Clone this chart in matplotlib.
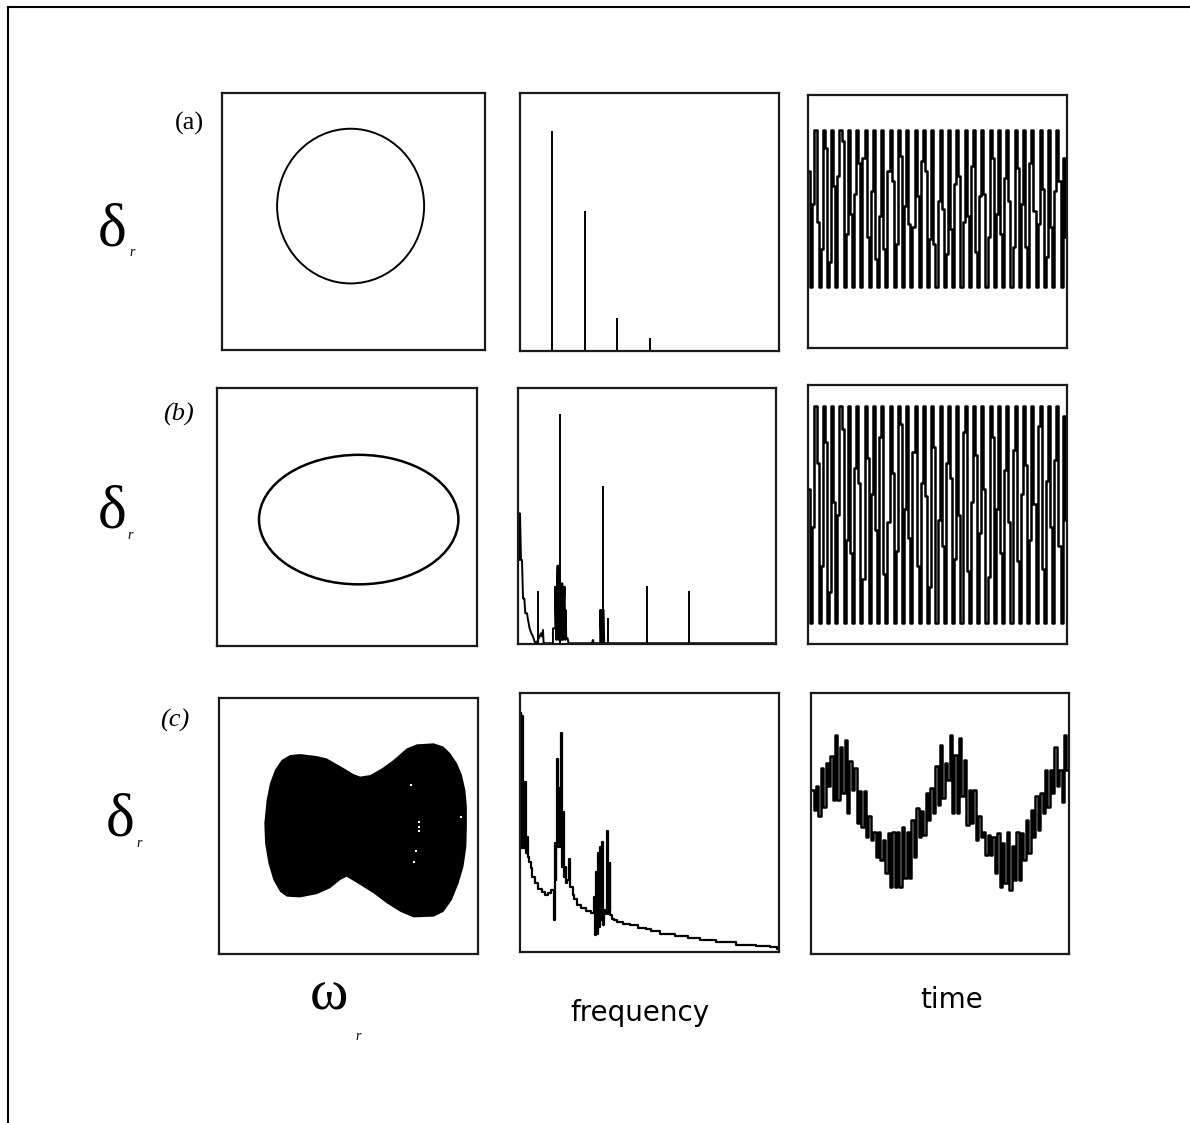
import numpy as np
import matplotlib
matplotlib.use("Agg")
import matplotlib.pyplot as plt
from matplotlib.patches import Ellipse
from matplotlib.lines import Line2D

# phase portraits (omega_r on x, delta_r on y), axes run 0..1
orbit_a = dict(cx=0.489, cy=0.560, w=0.559, h=0.602)
orbit_b = dict(cx=0.545, cy=0.490, w=0.767, h=0.502)

# outline of the filled attractor in (c)
attr_x = [0.274, 0.313, 0.378, 0.416, 0.468, 0.519, 0.545, 0.584, 0.629, 0.674,
          0.725, 0.764, 0.829, 0.867, 0.893, 0.919, 0.938, 0.951, 0.957, 0.957,
          0.955, 0.944, 0.925, 0.899, 0.867, 0.829, 0.751, 0.700, 0.648, 0.597,
          0.545, 0.493, 0.468, 0.429, 0.378, 0.313, 0.262, 0.236, 0.210, 0.191,
          0.178, 0.175, 0.184, 0.197, 0.216, 0.242]
attr_y = [0.777, 0.781, 0.773, 0.764, 0.734, 0.703, 0.693, 0.699, 0.725, 0.758,
          0.803, 0.819, 0.823, 0.810, 0.784, 0.745, 0.699, 0.641, 0.576, 0.497,
          0.419, 0.341, 0.276, 0.211, 0.165, 0.146, 0.143, 0.165, 0.198, 0.237,
          0.270, 0.302, 0.289, 0.257, 0.234, 0.221, 0.224, 0.243, 0.289, 0.354,
          0.432, 0.510, 0.602, 0.667, 0.719, 0.758]
gap_x = [0.741, 0.771, 0.771, 0.771, 0.762, 0.754, 0.935]
gap_y = [0.660, 0.515, 0.497, 0.479, 0.402, 0.361, 0.536]

# spectra, frequency 0..8, amplitude 0..1
a_freq = [1.0, 2.0, 3.0, 4.0]
a_amp = [0.851, 0.543, 0.129, 0.052]

b_curve_f = [0.021, 0.041, 0.062, 0.093, 0.124, 0.155, 0.196, 0.227, 0.279, 0.310,
             0.361, 0.413, 0.465, 0.516, 0.568, 0.671, 0.712, 0.754, 0.774, 0.795,
             1.084, 1.084, 1.156, 1.156, 1.187, 1.208, 1.228, 1.249, 1.259, 1.290,
             1.332, 1.352, 1.373, 1.394, 1.414, 1.445, 1.466, 1.476, 1.497, 1.538,
             1.569, 2.292, 2.323, 2.354, 2.550, 2.550, 2.581, 2.601, 2.653, 2.674,
             8.0]
b_curve_a = [0.510, 0.328, 0.510, 0.328, 0.328, 0.178, 0.178, 0.120, 0.120, 0.094,
             0.061, 0.042, 0.029, 0.009, 0.003, 0.029, 0.042, 0.029, 0.055, 0.003,
             0.003, 0.061, 0.061, 0.224, 0.016, 0.224, 0.306, 0.016, 0.306, 0.237,
             0.237, 0.016, 0.237, 0.016, 0.133, 0.224, 0.016, 0.133, 0.022, 0.022,
             0.003, 0.003, 0.016, 0.003, 0.003, 0.133, 0.003, 0.133, 0.133, 0.003,
             0.003]
b_spike_f = [0.619, 1.311, 2.632, 2.777, 4.006, 5.316]
b_spike_a = [0.208, 0.897, 0.616, 0.103, 0.228, 0.208]

c_freq = [0.021, 0.031, 0.051, 0.072, 0.093, 0.123, 0.144, 0.165, 0.185, 0.206,
          0.237, 0.267, 0.308, 0.360, 0.411, 0.514, 0.617, 0.720, 0.823, 0.925,
          1.008, 1.080, 1.090, 1.111, 1.131, 1.162, 1.183, 1.213, 1.234, 1.265,
          1.296, 1.316, 1.347, 1.378, 1.409, 1.440, 1.491, 1.543, 1.563, 1.614,
          1.645, 1.697, 1.800, 1.954, 2.108, 2.262, 2.314, 2.345, 2.375, 2.406,
          2.437, 2.468, 2.499, 2.530, 2.550, 2.581, 2.612, 2.643, 2.674, 2.694,
          2.725, 2.756, 2.776, 2.807, 2.848, 2.931, 3.085, 3.291, 3.496, 3.805,
          3.959, 4.113, 4.524, 5.039, 5.347, 5.759, 6.376, 6.993, 7.602, 7.867,
          7.980]
c_amp = [0.400, 0.923, 0.400, 0.910, 0.400, 0.658, 0.400, 0.658, 0.445, 0.381,
         0.445, 0.368, 0.348, 0.323, 0.290, 0.265, 0.245, 0.230, 0.219, 0.228,
         0.239, 0.125, 0.419, 0.277, 0.419, 0.746, 0.406, 0.632, 0.406, 0.535,
         0.845, 0.329, 0.542, 0.290, 0.329, 0.265, 0.277, 0.361, 0.252, 0.252,
         0.219, 0.206, 0.181, 0.168, 0.157, 0.151, 0.213, 0.065, 0.310, 0.071,
         0.381, 0.097, 0.406, 0.123, 0.426, 0.103, 0.161, 0.148, 0.161, 0.467,
         0.148, 0.161, 0.342, 0.142, 0.129, 0.125, 0.116, 0.110, 0.103, 0.093,
         0.090, 0.081, 0.071, 0.061, 0.055, 0.048, 0.039, 0.026, 0.023, 0.019,
         0.013]

# sampled delta_r time series, percent of panel height
ts_a = [70, 24, 57, 86, 50, 24, 39, 86, 79, 24, 34, 86, 64, 24, 68, 86, 82, 24, 45, 86,
        53, 24, 61, 86, 73, 24, 75, 86, 44, 24, 62, 86, 35, 24, 52, 86, 39, 24, 70, 86,
        66, 24, 41, 86, 76, 24, 56, 86, 49, 24, 48, 86, 60, 24, 74, 86, 70, 24, 43, 86,
        41, 24, 58, 86, 55, 24, 37, 86, 47, 24, 65, 86, 68, 24, 50, 86, 52, 24, 72, 86,
        38, 24, 60, 86, 61, 24, 44, 86, 75, 24, 53, 86, 45, 24, 67, 86, 58, 24, 40, 86,
        71, 24, 57, 86, 40, 24, 73, 86, 54, 24, 49, 86, 63, 24, 36, 86, 48, 24, 62, 86,
        66, 24, 75, 44]
ts_b = [60, 8, 45, 92, 70, 8, 30, 92, 78, 8, 20, 92, 55, 8, 50, 92, 83, 8, 40, 92,
        35, 8, 68, 92, 62, 8, 25, 92, 72, 8, 58, 92, 44, 8, 80, 92, 27, 8, 47, 92,
        66, 8, 36, 92, 85, 8, 52, 92, 41, 8, 74, 92, 30, 8, 62, 92, 57, 8, 22, 92,
        76, 8, 48, 92, 38, 8, 70, 92, 64, 8, 33, 92, 50, 8, 82, 92, 28, 8, 55, 92,
        73, 8, 43, 92, 60, 8, 26, 92, 80, 8, 52, 92, 35, 8, 67, 92, 47, 8, 75, 92,
        32, 8, 58, 92, 69, 8, 40, 92, 54, 8, 84, 92, 29, 8, 63, 92, 45, 8, 71, 92,
        38, 8, 88, 48]
ts_c = [62.9, 55.2, 64.2, 52.7, 71.2, 56.5, 73.1, 64.2, 75.7, 59.1, 84.0, 59.1,
        79.5, 61.6, 82.1, 54.0, 73.8, 62.9, 71.2, 50.1, 62.3, 48.8, 62.3, 45.0,
        52.7, 43.7, 46.9, 37.3, 46.9, 36.1, 43.7, 30.9, 46.3, 25.8, 46.9, 25.8,
        46.9, 25.8, 48.8, 29.0, 46.9, 29.0, 51.4, 37.3, 55.9, 45.0, 54.6, 45.7,
        61.6, 51.4, 63.6, 54.0, 71.9, 57.2, 80.2, 59.7, 73.1, 66.8, 84.0, 54.0,
        76.3, 54.0, 82.7, 60.4, 74.4, 49.5, 62.9, 50.1, 62.9, 43.7, 52.7, 45.0,
        46.9, 38.0, 45.7, 38.0, 45.0, 30.9, 46.3, 25.8, 42.5, 27.1, 46.9, 24.6,
        41.2, 28.4, 46.9, 28.4, 46.3, 36.1, 51.4, 38.6, 55.2, 45.0, 60.4, 47.6,
        61.6, 54.0, 70.6, 56.5, 70.6, 61.6, 79.5, 64.2, 70.6, 58.4, 84.0, 70.6]

row_labels = ["(a)", "(b)", "(c)"]

fig = plt.figure(figsize=(11.9, 11.23), dpi=100)
fig.patch.set_facecolor("white")

W, H = 1190.0, 1123.0


def box(x0, y0, x1, y1):
    return [x0 / W, 1 - y1 / H, (x1 - x0) / W, (y1 - y0) / H]


boxes = [
    [box(222, 93, 485, 350), box(520, 93, 779, 351), box(808, 95, 1067, 348)],
    [box(217, 388, 477, 646), box(518, 388, 776, 644), box(808, 385, 1067, 644)],
    [box(219, 698, 478, 954), box(520, 693, 779, 952), box(811, 693, 1069, 954)],
]

axes = []
for r in range(3):
    row = []
    for c in range(3):
        ax = fig.add_axes(boxes[r][c])
        ax.set_xticks([])
        ax.set_yticks([])
        for s in ax.spines.values():
            s.set_linewidth(1.6)
            s.set_color("#1a1a1a")
        row.append(ax)
    axes.append(row)

lw = 1.4

# phase portraits
for ax, orb, olw in [(axes[0][0], orbit_a, 1.4), (axes[1][0], orbit_b, 1.8)]:
    ax.add_patch(Ellipse((orb["cx"], orb["cy"]), orb["w"], orb["h"],
                         fill=False, edgecolor="black", linewidth=olw))
    ax.set_xlim(0, 1)
    ax.set_ylim(0, 1)
ax = axes[2][0]
ax.fill(attr_x, attr_y, color="black", linewidth=0)
ax.scatter(gap_x, gap_y, s=4, color="white", marker="s", linewidths=0, zorder=3)
ax.set_xlim(0, 1)
ax.set_ylim(0, 1)

# spectra
ax = axes[0][1]
ax.vlines(a_freq, 0, a_amp, color="black", linewidth=lw)
ax.set_xlim(0, 8)
ax.set_ylim(0, 1)

ax = axes[1][1]
ax.plot(b_curve_f, b_curve_a, color="black", linewidth=lw)
ax.vlines(b_spike_f, 0, b_spike_a, color="black", linewidth=lw)
ax.set_xlim(0, 8)
ax.set_ylim(0, 1)

ax = axes[2][1]
ax.plot(c_freq, c_amp, color="black", linewidth=1.6, drawstyle="steps-mid")
ax.set_xlim(0, 8)
ax.set_ylim(0, 1)

# time series
for ax, ts in [(axes[0][2], ts_a), (axes[1][2], ts_b), (axes[2][2], ts_c)]:
    t = np.arange(len(ts))
    ax.plot(t, ts, color="black", linewidth=1.8, drawstyle="steps-mid")
    ax.set_xlim(-0.6, len(ts) - 0.4)
    ax.set_ylim(0, 100)

# row tags and axis symbols
serif = "Liberation Serif"
tag_pos = [(189, 123, "normal"), (178, 414, "italic"), (175, 720, "italic")]
for lab, (x, y, st) in zip(row_labels, tag_pos):
    fig.text(x / W, 1 - y / H, lab, family=serif, style=st, fontsize=19,
             ha="center", va="center")

delta_pos = [(112, 245, 132, 256), (112, 528, 130, 539), (120, 835, 139, 847)]
for dx, dy, rx, ry in delta_pos:
    fig.text(dx / W, 1 - dy / H, "δ", family=serif, fontsize=44,
             ha="center", va="baseline")
    fig.text(rx / W, 1 - ry / H, "r", family=serif, style="italic", fontsize=10,
             ha="center", va="baseline")

fig.text(329 / W, 1 - 1010 / H, "ω", family=serif, fontsize=42,
         ha="center", va="baseline")
fig.text(358 / W, 1 - 1040 / H, "r", family=serif, style="italic", fontsize=10,
         ha="center", va="baseline")
fig.text(640 / W, 1 - 1013 / H, "frequency", family="DejaVu Sans", fontsize=20,
         ha="center", va="center")
fig.text(952 / W, 1 - 1000 / H, "time", family="DejaVu Sans", fontsize=20,
         ha="center", va="center")

# outer frame: top and left edges only
fig.add_artist(Line2D([8 / W, 1.0], [1 - 7 / H, 1 - 7 / H], color="black", linewidth=1.5))
fig.add_artist(Line2D([8 / W, 8 / W], [0.0, 1 - 7 / H], color="black", linewidth=1.5))

fig.savefig("out.png", dpi=100, facecolor="white")
